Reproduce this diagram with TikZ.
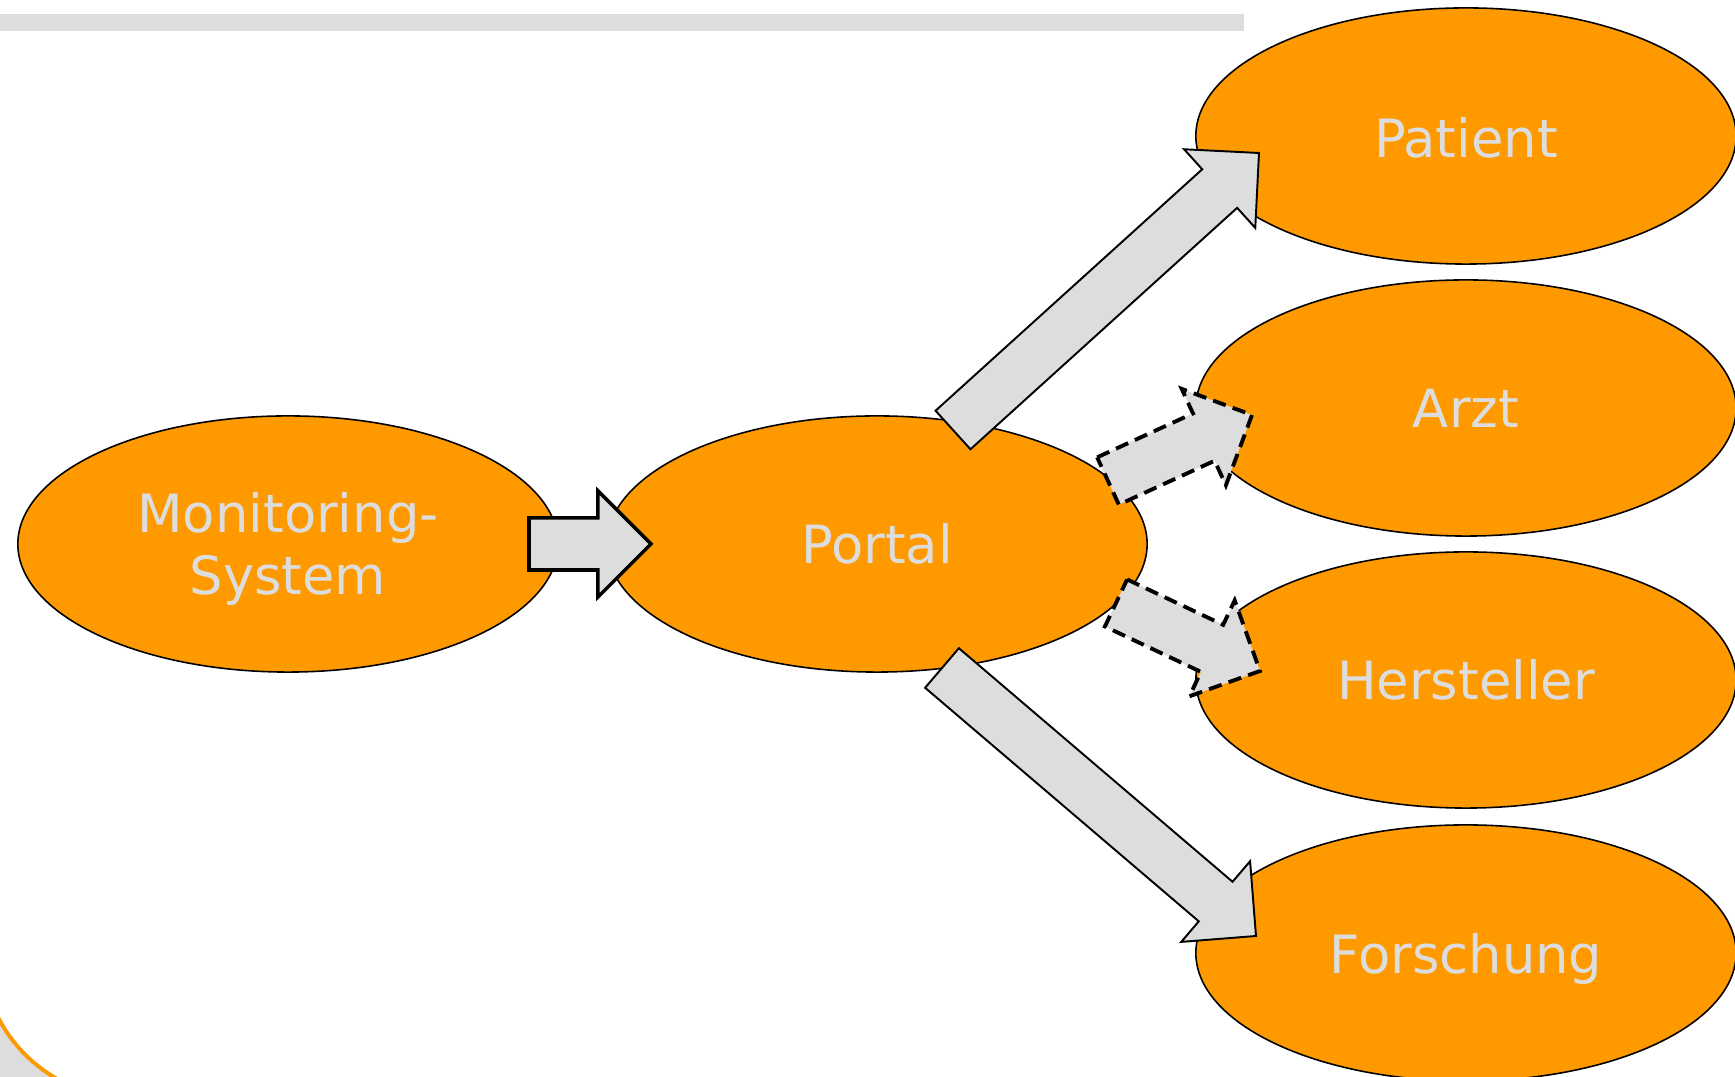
\documentclass[tikz,border=0pt]{standalone}
\usepackage{fontspec}
\setmainfont{DejaVu Sans}
\usepackage{tikz}
\usetikzlibrary{shapes.geometric}
\usetikzlibrary{calc}

\definecolor{portorange}{RGB}{255,153,0}
\definecolor{lightgrey}{RGB}{221,221,221}

\tikzset{
  bubble/.style={ellipse, draw=black, line width=0.45pt, fill=portorange,
    minimum width=5.4cm, minimum height=2.56cm, inner sep=0pt,
    text=lightgrey, font=\fontsize{15}{17.6}\selectfont, align=center},
  flow/.style={draw=black, fill=lightgrey, line width=0.55pt, line join=miter},
  flowthick/.style={flow, line width=1pt},
  flowdash/.style={flow, line width=1.1pt, dash pattern=on 3.8pt off 2.1pt}
}

% block arrow from #2 to #3
\newcommand{\blockarrow}[3][flow]{%
  \path ($(#3)!0.53cm!(#2)$) coordinate (hb);
  \draw[#1] ($(#2)!0.26cm!90:(#3)$) -- ($(hb)!0.26cm!90:(#3)$)
    -- ($(hb)!0.53cm!90:(#3)$) -- (#3) -- ($(hb)!0.53cm!-90:(#3)$)
    -- ($(hb)!0.26cm!-90:(#3)$) -- ($(#2)!0.26cm!-90:(#3)$) -- cycle;
}
% lower a label a little, keeping its box
\newcommand{\lowered}[2]{\raisebox{-#1}[\height][\depth]{#2}}

\begin{document}
\begin{tikzpicture}[x=0.01cm,y=-0.01cm]
                    \useasboundingbox (0,0) rectangle (1735,1077);
                    \fill[lightgrey] (0,14) rectangle (1244,31);

                    % corner of the slide
                    \begin{scope}
                      \clip (0,990) rectangle (140,1077);
                      \fill[lightgrey] (0,990) rectangle (140,1077);
                      \draw[portorange, line width=1.1pt, fill=white] (130,950) circle (1.48cm);
                    \end{scope}

                    \node[bubble] (mon) at (288,544)
                      {\lowered{0.07cm}{\begin{tabular}{@{}c@{}}Monitoring-\\System\end{tabular}}};
                    \node[bubble] (portal) at (877,544) {Portal};
                    \node[bubble] (patient) at (1466,136) {\lowered{0.02cm}{Patient}};
                    \node[bubble] (arzt) at (1466,408) {Arzt};
                    \node[bubble] (hersteller) at (1466,680) {Hersteller};
                    \node[bubble] (forschung) at (1466,953) {\lowered{0.06cm}{Forschung}};

                    \coordinate (monout) at ($(mon.center)+(241,0)$);
                    \coordinate (portin) at ($(portal.center)+(-226,0)$);
                    \coordinate (pa1) at ($(portal.center)+(76,-114)$);
                    \coordinate (pa2) at ($(patient.center)+(-207,17)$);
                    \coordinate (ar1) at ($(portal.center)+(231,-63)$);
                    \coordinate (ar2) at ($(arzt.center)+(-214,7)$);
                    \coordinate (he1) at ($(portal.center)+(239,59)$);
                    \coordinate (he2) at ($(hersteller.center)+(-206,-9)$);
                    \coordinate (fo1) at ($(portal.center)+(65,124)$);
                    \coordinate (fo2) at ($(forschung.center)+(-210,-17)$);

                    \blockarrow[flowthick]{monout}{portin}
                    \blockarrow{pa1}{pa2}
                    \blockarrow[flowdash]{ar1}{ar2}
                    \blockarrow[flowdash]{he1}{he2}
                    \blockarrow{fo1}{fo2}
                \end{tikzpicture}
\end{document}
